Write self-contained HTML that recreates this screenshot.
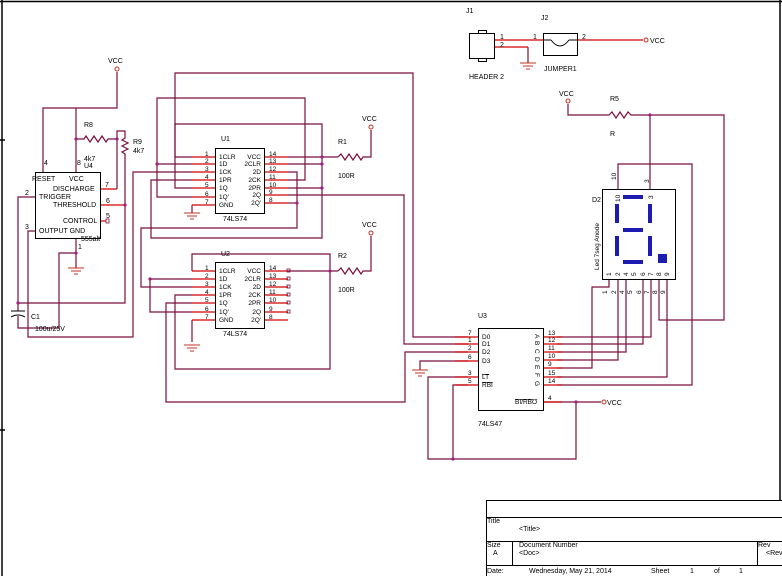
<!DOCTYPE html>
<html><head><meta charset="utf-8"><style>
html,body{margin:0;padding:0;background:#fff;}
svg{display:block;font-family:"Liberation Sans",Arial,sans-serif;}
</style></head><body>
<svg width="782" height="576" viewBox="0 0 782 576" xmlns="http://www.w3.org/2000/svg">
<rect x="0" y="0" width="782" height="576" fill="#fff"/>
<g stroke="#000" stroke-width="1.5" fill="none">
<line x1="2" y1="0" x2="2" y2="576"/>
<line x1="0" y1="1.5" x2="782" y2="1.5"/>
<line x1="780" y1="0" x2="780" y2="500"/>
<line x1="0" y1="140" x2="5" y2="140"/><line x1="0" y1="430" x2="5" y2="430"/>
</g>
<g stroke="#000" stroke-width="1" fill="none">
<rect x="486.5" y="500.5" width="296" height="76"/>
<line x1="486" y1="517.5" x2="782" y2="517.5"/>
<line x1="486" y1="541.5" x2="782" y2="541.5"/>
<line x1="486" y1="565.5" x2="782" y2="565.5"/>
<line x1="512.5" y1="541" x2="512.5" y2="566"/>
<line x1="757.5" y1="541" x2="757.5" y2="566"/>
</g>
<g font-size="7" fill="#000">
<text x="487" y="523">Title</text><text x="519" y="531">&lt;Title&gt;</text>
<text x="487" y="547">Size</text><text x="493" y="555">A</text>
<text x="519" y="547">Document Number</text><text x="519" y="555">&lt;Doc&gt;</text>
<text x="758" y="547">Rev</text><text x="766" y="555">&lt;Rev</text>
<text x="487" y="573">Date:</text><text x="529" y="573">Wednesday, May 21, 2014</text>
<text x="651" y="573">Sheet</text><text x="690" y="573">1</text><text x="714" y="573">of</text><text x="739" y="573">1</text>
</g>

<g stroke="#7a1040" stroke-width="1.2" fill="none">
<polyline points="43,172 43,108 117,108 117,72"/>
<line x1="76" y1="108" x2="76" y2="172"/>
<polyline points="76,139 84,139 86,136 90,142 94,136 98,142 102,136 106,142 108,139 117,139"/>
<polyline points="117,189 117,131 125,131 125,138 122,140 128,143 122,146 128,149 122,152 125,154 125,303 18,303"/>
<polyline points="35,197 18,197 18,311"/>
<polyline points="18,316 18,328 59,328 59,253 76,253"/>
<line x1="76" y1="238" x2="76" y2="268"/>
<polyline points="35,231 28,231 28,337 133,337 133,172 192,172"/>
<polyline points="192,157 175,157 175,124 322,124 322,238 151,238 151,180 192,180"/>
<line x1="288" y1="157" x2="338" y2="157"/>
<polyline points="338,157 341,154 345,160 349,154 353,160 357,154 361,160 363,157 371,157 371,130"/>
<line x1="288" y1="164" x2="322" y2="164"/>
<line x1="288" y1="188" x2="322" y2="188"/>
<polyline points="192,164 157,164"/>
<polyline points="192,197 157,197 157,98 305,98 305,180 288,180"/>
<polyline points="192,188 175,188 175,73 413,73 413,337 468,337"/>
<polyline points="288,172 297,172 297,228 141,228 141,287 192,287"/>
<line x1="288" y1="203" x2="297" y2="203"/>
<polyline points="288,195 404,195 404,344 468,344"/>
<polyline points="192,205 192,213"/>
<polyline points="192,271 192,254 330,254 330,369 175,369 175,295 192,295"/>
<line x1="288" y1="271" x2="338" y2="271"/>
<polyline points="338,271 341,268 345,274 349,268 353,274 357,268 361,274 363,271 371,271 371,236"/>
<polyline points="192,279 150,279 150,312 192,312"/>
<polyline points="192,303 166,303 166,402 405,402 405,352 468,352"/>
<polyline points="192,320 192,342"/>
<polyline points="468,361 420,361 420,370"/>
<polyline points="468,377 428,377 428,459 576,459 576,402 543,402"/>
<polyline points="468,385 453,385 453,459"/>
<line x1="576" y1="402" x2="601" y2="402"/>
<polyline points="557,337 651,337 651,279"/>
<polyline points="557,344 643,344 643,279"/>
<polyline points="557,352 626,352 626,279"/>
<polyline points="557,360 618,360 618,279"/>
<polyline points="557,368 592,368 592,287 609,287 609,279"/>
<polyline points="557,377 667,377 667,279"/>
<polyline points="557,385 692,385 692,164 618,164 618,189"/>
<polyline points="659,279 659,320 724,320 724,115 650,115 650,189"/>
<polyline points="568,104 568,115 609,115 612,112 616,118 620,112 624,118 628,112 631,115 650,115"/>
<polyline points="528,47 528,63"/>
</g>
<g stroke="#d00000" stroke-width="1.2">
<line x1="100" y1="189" x2="117" y2="189"/><line x1="100" y1="205" x2="125" y2="205"/>
<line x1="100" y1="221" x2="106" y2="221"/>
<line x1="192" y1="157" x2="215" y2="157"/><line x1="192" y1="164" x2="215" y2="164"/><line x1="192" y1="172" x2="215" y2="172"/><line x1="192" y1="180" x2="215" y2="180"/><line x1="192" y1="188" x2="215" y2="188"/><line x1="192" y1="197" x2="215" y2="197"/><line x1="192" y1="205" x2="215" y2="205"/>
<line x1="264" y1="157" x2="288" y2="157"/><line x1="264" y1="164" x2="288" y2="164"/><line x1="264" y1="172" x2="288" y2="172"/><line x1="264" y1="180" x2="288" y2="180"/><line x1="264" y1="188" x2="288" y2="188"/><line x1="264" y1="195" x2="288" y2="195"/><line x1="264" y1="203" x2="288" y2="203"/>
<line x1="192" y1="271" x2="215" y2="271"/><line x1="192" y1="279" x2="215" y2="279"/><line x1="192" y1="287" x2="215" y2="287"/><line x1="192" y1="295" x2="215" y2="295"/><line x1="192" y1="303" x2="215" y2="303"/><line x1="192" y1="312" x2="215" y2="312"/><line x1="192" y1="320" x2="215" y2="320"/>
<line x1="264" y1="271" x2="288" y2="271"/><line x1="264" y1="279" x2="288" y2="279"/><line x1="264" y1="287" x2="288" y2="287"/><line x1="264" y1="295" x2="288" y2="295"/><line x1="264" y1="303" x2="288" y2="303"/><line x1="264" y1="312" x2="288" y2="312"/><line x1="264" y1="320" x2="288" y2="320"/>
<line x1="455" y1="337" x2="478" y2="337"/><line x1="455" y1="344" x2="478" y2="344"/><line x1="455" y1="352" x2="478" y2="352"/><line x1="455" y1="361" x2="478" y2="361"/><line x1="455" y1="377" x2="478" y2="377"/><line x1="455" y1="385" x2="478" y2="385"/>
<line x1="543" y1="337" x2="562" y2="337"/><line x1="543" y1="344" x2="562" y2="344"/><line x1="543" y1="352" x2="562" y2="352"/><line x1="543" y1="360" x2="562" y2="360"/><line x1="543" y1="368" x2="562" y2="368"/><line x1="543" y1="377" x2="562" y2="377"/><line x1="543" y1="385" x2="562" y2="385"/><line x1="543" y1="402" x2="562" y2="402"/>
<line x1="494" y1="40" x2="543" y2="40"/><line x1="494" y1="47" x2="528" y2="47"/><line x1="577" y1="40" x2="643" y2="40"/>
</g>
<g stroke="#7a1040" fill="none" stroke-width="0.8">
<rect x="287" y="269" width="3" height="3"/><rect x="287" y="277" width="3" height="3"/><rect x="287" y="285" width="3" height="3"/><rect x="287" y="293" width="3" height="3"/><rect x="287" y="301" width="3" height="3"/><rect x="287" y="310" width="3" height="3"/>
<rect x="106" y="219" width="3" height="4"/>
</g>
<g stroke="#c03020" fill="#fff" stroke-width="1">
<circle cx="117" cy="69" r="2"/><circle cx="371" cy="127" r="2"/><circle cx="371" cy="233" r="2"/><circle cx="568" cy="101" r="2"/><circle cx="604" cy="402" r="2"/><circle cx="646" cy="40" r="2"/>
</g>
<g fill="#a02080">
<circle cx="76" cy="139" r="1.6"/><circle cx="117" cy="139" r="1.6"/><circle cx="125" cy="205" r="1.6"/><circle cx="18" cy="303" r="1.6"/><circle cx="76" cy="253" r="1.6"/>
<circle cx="322" cy="157" r="1.6"/><circle cx="322" cy="164" r="1.6"/><circle cx="322" cy="188" r="1.6"/><circle cx="157" cy="164" r="1.6"/><circle cx="297" cy="203" r="1.6"/>
<circle cx="330" cy="271" r="1.6"/><circle cx="150" cy="279" r="1.6"/><circle cx="453" cy="459" r="1.6"/><circle cx="576" cy="402" r="1.6"/><circle cx="650" cy="115" r="1.6"/>
</g>
<g stroke="#c03020" stroke-width="1">
<line x1="68" y1="268" x2="84" y2="268"/><line x1="71" y1="271" x2="81" y2="271"/><line x1="74" y1="274" x2="78" y2="274"/>
<line x1="184" y1="213" x2="200" y2="213"/><line x1="187" y1="216" x2="197" y2="216"/><line x1="190" y1="219" x2="194" y2="219"/>
<line x1="184" y1="345" x2="200" y2="345"/><line x1="187" y1="348" x2="197" y2="348"/><line x1="190" y1="351" x2="194" y2="351"/>
<line x1="412" y1="370" x2="428" y2="370"/><line x1="415" y1="373" x2="425" y2="373"/><line x1="418" y1="376" x2="422" y2="376"/>
<line x1="520" y1="63" x2="536" y2="63"/><line x1="523" y1="66" x2="533" y2="66"/><line x1="526" y1="69" x2="530" y2="69"/>
</g>
<g stroke="#000" stroke-width="1" fill="none"><line x1="11" y1="311" x2="25" y2="311"/><path d="M11,317 Q18,313 25,317"/></g>
<g stroke="#000" stroke-width="1" fill="none">
<rect x="35.5" y="172.5" width="65" height="66"/>
<rect x="215.5" y="148.5" width="49" height="65"/>
<rect x="215.5" y="262.5" width="49" height="66"/>
<rect x="478.5" y="328.5" width="65" height="82"/>
<rect x="602.5" y="189.5" width="73" height="90"/>
<rect x="469.5" y="33.5" width="25" height="25"/><rect x="478.5" y="30.5" width="8" height="3"/><rect x="478.5" y="58.5" width="8" height="3"/>
<rect x="543.5" y="33.5" width="34" height="22"/>
<path d="M551,40 Q560,52 569,40"/>
<line x1="543" y1="40" x2="551" y2="40"/><line x1="569" y1="40" x2="577" y2="40"/>
</g>
<g fill="#1c1cb0">
<rect x="623" y="195" width="20" height="4"/><rect x="623" y="228" width="20" height="4"/><rect x="623" y="260" width="20" height="4"/>
<rect x="615" y="204" width="4" height="19"/><rect x="648" y="204" width="4" height="19"/>
<rect x="615" y="236" width="4" height="20"/><rect x="648" y="236" width="4" height="20"/>
<rect x="658" y="254" width="9" height="9"/>
</g>
<g font-size="7" fill="#000">
<text x="108" y="63">VCC</text><text x="362" y="121">VCC</text><text x="362" y="227">VCC</text><text x="559" y="96">VCC</text><text x="607" y="405">VCC</text><text x="650" y="43">VCC</text>
<text x="84" y="127">R8</text><text x="133" y="144">R9</text><text x="133" y="153">4k7</text><text x="84" y="161">4k7</text><text x="84" y="168">U4</text>
<text x="44" y="165">4</text><text x="77" y="165">8</text>
<text x="32" y="181">RESET</text><text x="69" y="181">VCC</text><text x="53" y="191">DISCHARGE</text><text x="39" y="199">TRIGGER</text><text x="53" y="207">THRESHOLD</text><text x="63" y="223">CONTROL</text><text x="39" y="233">OUTPUT  GND</text><text x="81" y="241">555alt</text>
<text x="105" y="187">7</text><text x="106" y="203">6</text><text x="106" y="218">5</text><text x="78" y="249">1</text><text x="25" y="195">2</text><text x="25" y="229">3</text>
<text x="31" y="319">C1</text><text x="35" y="331">100u/25V</text>
<text x="221" y="141">U1</text><text x="223" y="221">74LS74</text>
<text x="221" y="256">U2</text><text x="223" y="336">74LS74</text>
<text x="338" y="144">R1</text><text x="338" y="178">100R</text><text x="338" y="258">R2</text><text x="338" y="292">100R</text>
<text x="610" y="101">R5</text><text x="610" y="136">R</text>
<text x="466" y="13">J1</text><text x="541" y="20">J2</text><text x="469" y="79">HEADER 2</text><text x="544" y="71">JUMPER1</text>
<text x="500" y="39">1</text><text x="500" y="47">2</text><text x="533" y="39">1</text><text x="582" y="39">2</text>
<text x="478" y="318">U3</text><text x="478" y="426">74LS47</text>
<text x="592" y="202">D2</text>
</g>
<g font-size="6.5" fill="#000">
<text x="219" y="159">1CLR</text><text x="219" y="166">1D</text><text x="219" y="174">1CK</text><text x="219" y="182">1PR</text><text x="219" y="190">1Q</text><text x="219" y="199">1Q'</text><text x="219" y="207">GND</text>
<text x="261" y="159" text-anchor="end">VCC</text><text x="261" y="166" text-anchor="end">2CLR</text><text x="261" y="174" text-anchor="end">2D</text><text x="261" y="182" text-anchor="end">2CK</text><text x="261" y="190" text-anchor="end">2PR</text><text x="261" y="197" text-anchor="end">2Q</text><text x="261" y="205" text-anchor="end">2Q'</text>
<text x="205" y="156">1</text><text x="205" y="163">2</text><text x="205" y="171">3</text><text x="205" y="179">4</text><text x="205" y="187">5</text><text x="205" y="196">6</text><text x="205" y="204">7</text>
<text x="269" y="156">14</text><text x="269" y="163">13</text><text x="269" y="171">12</text><text x="269" y="179">11</text><text x="269" y="187">10</text><text x="269" y="194">9</text><text x="269" y="202">8</text>
<text x="219" y="273">1CLR</text><text x="219" y="281">1D</text><text x="219" y="289">1CK</text><text x="219" y="297">1PR</text><text x="219" y="305">1Q</text><text x="219" y="314">1Q'</text><text x="219" y="322">GND</text>
<text x="261" y="273" text-anchor="end">VCC</text><text x="261" y="281" text-anchor="end">2CLR</text><text x="261" y="289" text-anchor="end">2D</text><text x="261" y="297" text-anchor="end">2CK</text><text x="261" y="305" text-anchor="end">2PR</text><text x="261" y="314" text-anchor="end">2Q</text><text x="261" y="322" text-anchor="end">2Q'</text>
<text x="205" y="270">1</text><text x="205" y="278">2</text><text x="205" y="286">3</text><text x="205" y="294">4</text><text x="205" y="302">5</text><text x="205" y="311">6</text><text x="205" y="319">7</text>
<text x="269" y="270">14</text><text x="269" y="278">13</text><text x="269" y="286">12</text><text x="269" y="294">11</text><text x="269" y="302">10</text><text x="269" y="311">9</text><text x="269" y="319">8</text>
<text x="482" y="339">D0</text><text x="482" y="346">D1</text><text x="482" y="354">D2</text><text x="482" y="363">D3</text>
<text x="482" y="379" text-decoration="overline">LT</text><text x="482" y="387" text-decoration="overline">RBI</text>
<text x="515" y="404" text-decoration="overline">BI/RBO</text>
<text x="468" y="335">7</text><text x="468" y="342">1</text><text x="468" y="350">2</text><text x="468" y="359">6</text><text x="468" y="375">3</text><text x="468" y="383">5</text>
<text x="548" y="335">13</text><text x="548" y="342">12</text><text x="548" y="350">11</text><text x="548" y="358">10</text><text x="548" y="366">9</text><text x="548" y="375">15</text><text x="548" y="383">14</text><text x="548" y="400">4</text>
<text transform="translate(535,334) rotate(90)">A</text><text transform="translate(535,341) rotate(90)">B</text><text transform="translate(535,349) rotate(90)">C</text><text transform="translate(535,357) rotate(90)">D</text><text transform="translate(535,365) rotate(90)">E</text><text transform="translate(535,373) rotate(90)">F</text><text transform="translate(535,381) rotate(90)">G</text>
<text transform="translate(599,270) rotate(-90)">Led 7seg Anode</text>
<text transform="translate(620,202) rotate(-90)">10</text><text transform="translate(653,199) rotate(-90)">3</text>
<text transform="translate(616,180) rotate(-90)">10</text><text transform="translate(649,183) rotate(-90)">3</text>
<text transform="translate(611,276) rotate(-90)">1</text><text transform="translate(620,276) rotate(-90)">2</text><text transform="translate(628,276) rotate(-90)">4</text><text transform="translate(636,276) rotate(-90)">5</text><text transform="translate(645,276) rotate(-90)">6</text><text transform="translate(653,276) rotate(-90)">7</text><text transform="translate(661,276) rotate(-90)">8</text><text transform="translate(669,276) rotate(-90)">9</text>
<text transform="translate(607,294) rotate(-90)">1</text><text transform="translate(616,294) rotate(-90)">2</text><text transform="translate(624,294) rotate(-90)">4</text><text transform="translate(632,294) rotate(-90)">5</text><text transform="translate(641,294) rotate(-90)">6</text><text transform="translate(649,294) rotate(-90)">7</text><text transform="translate(657,294) rotate(-90)">8</text><text transform="translate(665,294) rotate(-90)">9</text>
</g>
</svg>
</body></html>
